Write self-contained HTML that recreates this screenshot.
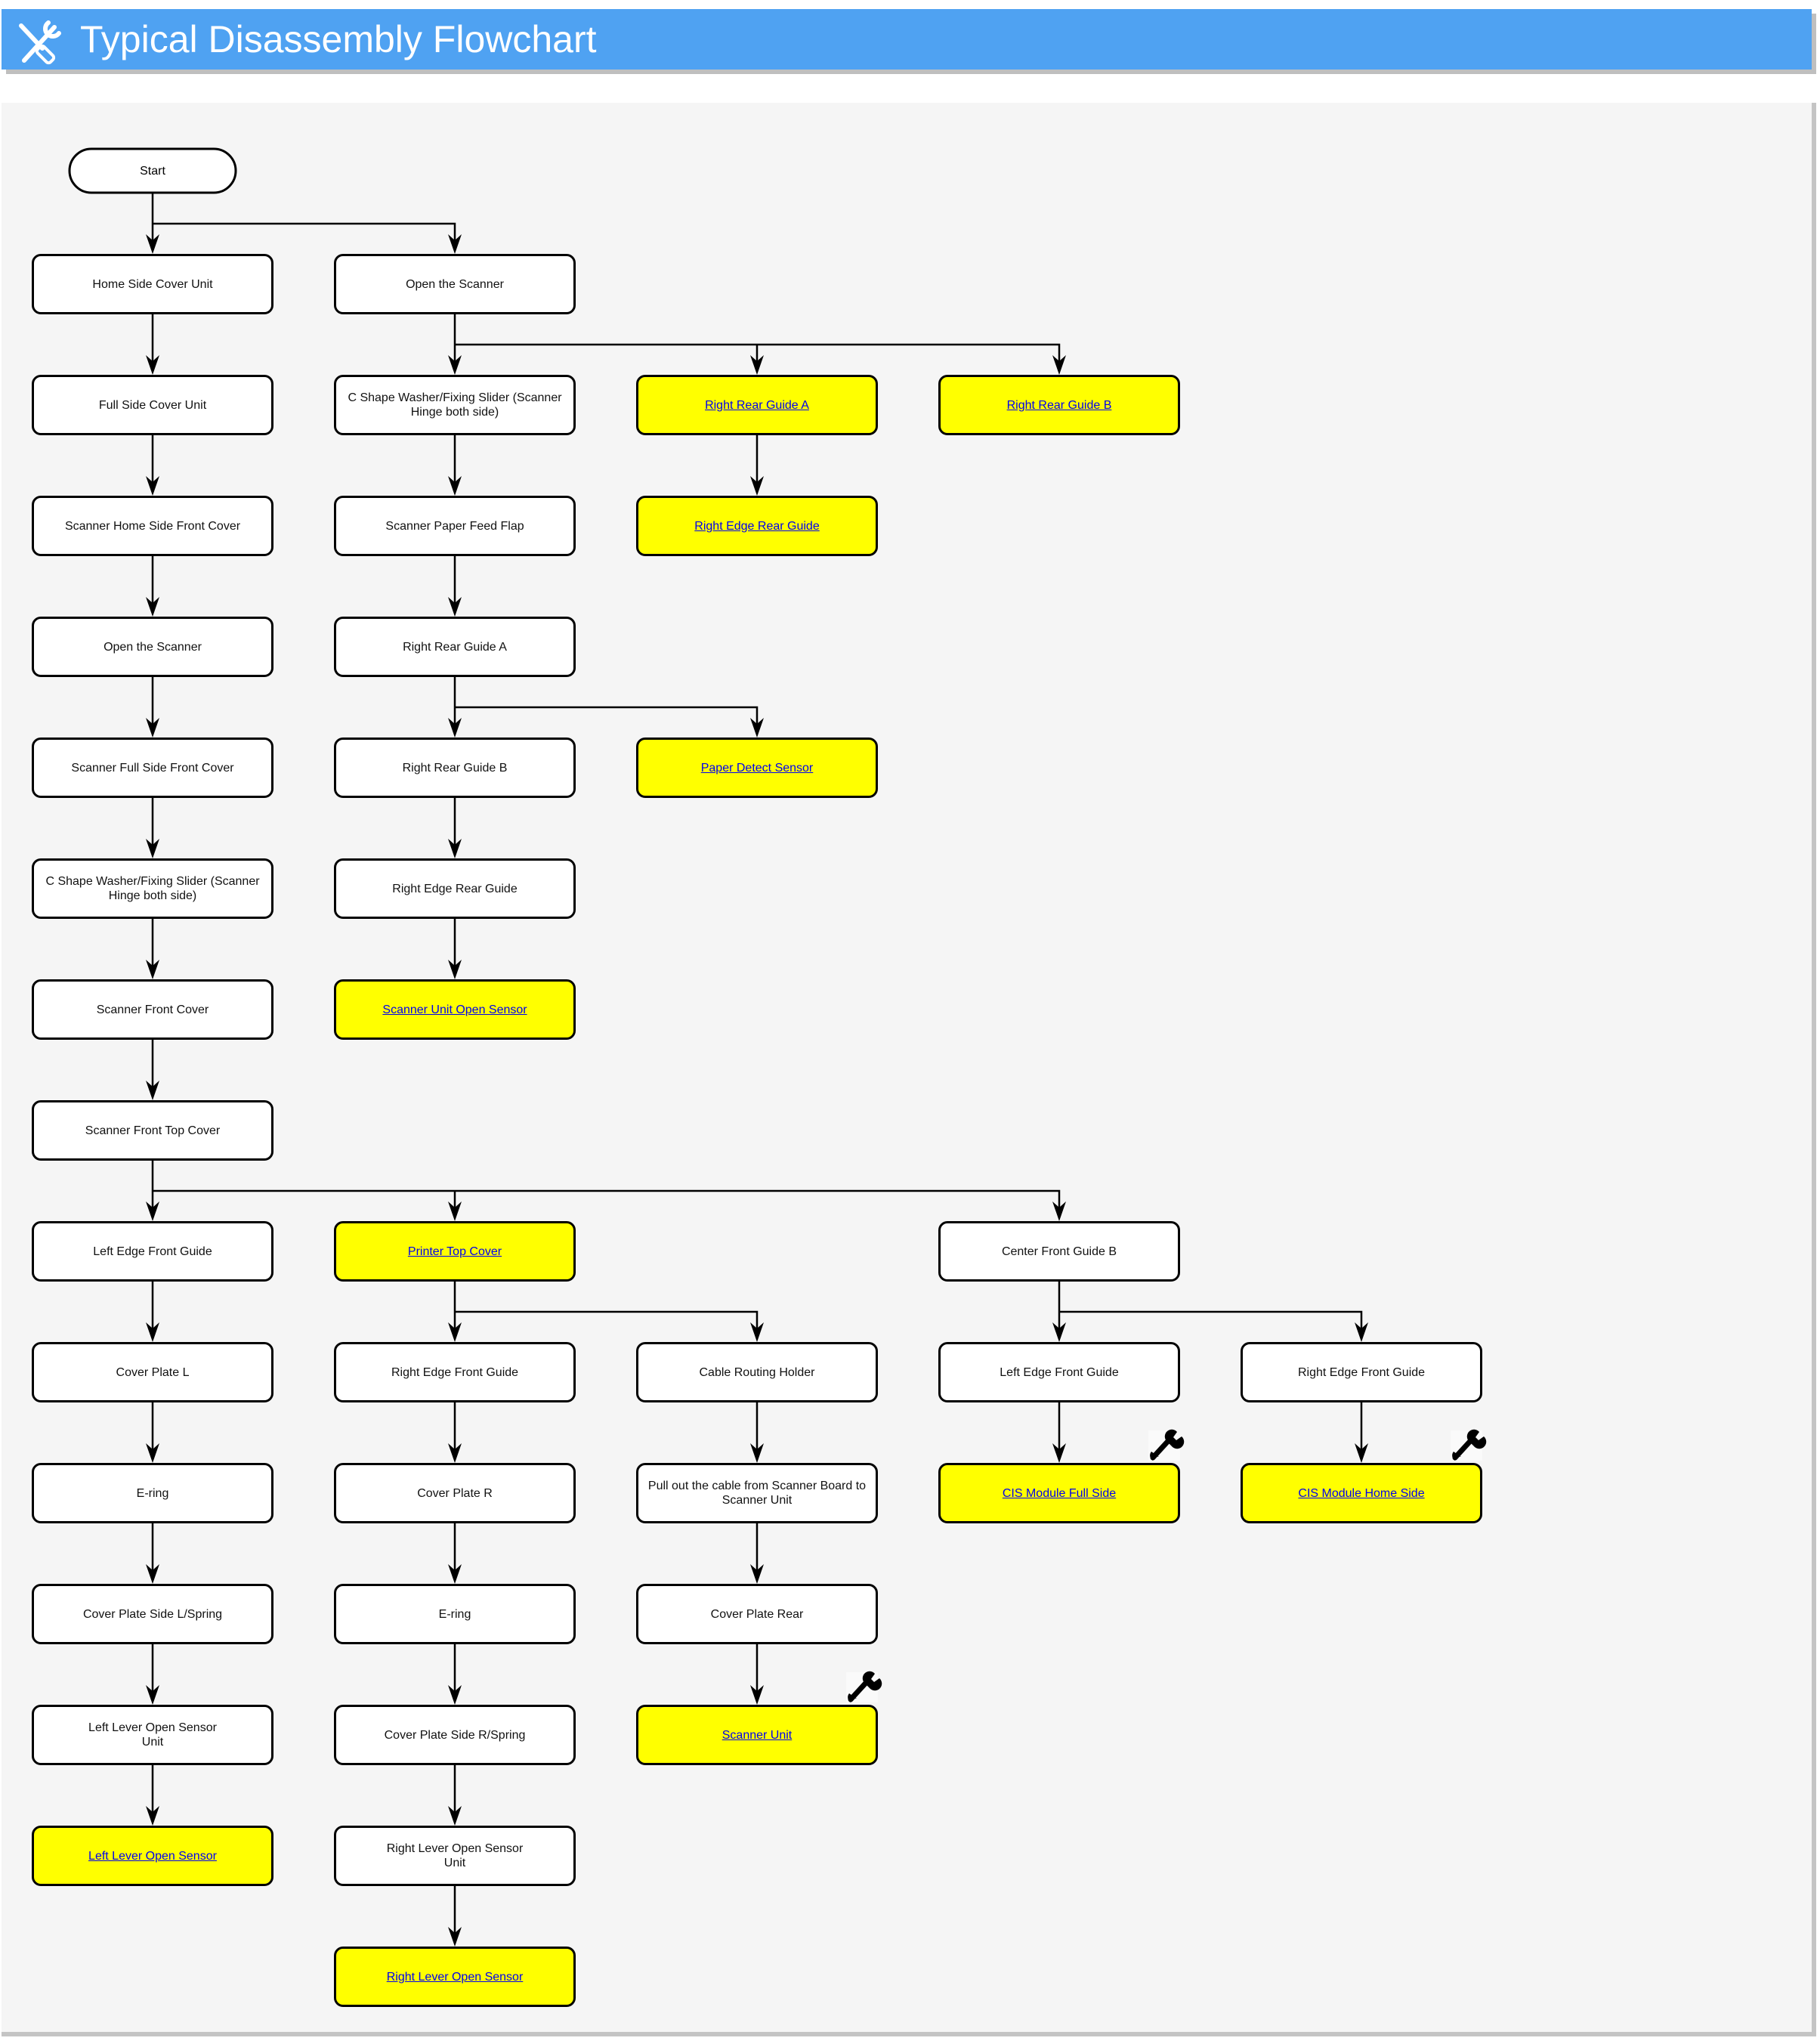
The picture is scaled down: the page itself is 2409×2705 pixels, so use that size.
<!DOCTYPE html>
<html><head><meta charset="utf-8"><style>
body{margin:0;width:2409px;height:2705px;background:#fff;position:relative;overflow:hidden;font-family:"Liberation Sans",sans-serif}
.hdr{position:absolute;left:2px;top:12px;width:2396px;height:80px;background:#4fa2f2;box-shadow:6px 6px 0 #bfbfbf}
.title{position:absolute;left:106px;top:12px;height:80px;line-height:80px;color:#fff;font-size:50px}
.panel{position:absolute;left:2px;top:136px;width:2396px;height:2553px;background:#f5f5f5;border-right:6px solid #c4c4c4;border-bottom:6px solid #c4c4c4}
.b{position:absolute;width:298px;padding:0 8px;height:74px;border:3px solid #000;border-radius:12px;background:#fff;display:flex;align-items:center;justify-content:center;text-align:center;font-size:16px;line-height:19px;color:#111}
.y{background:#ff0}
.y span{color:#00e;text-decoration:underline}
</style></head><body>
<div class="hdr"></div>
<svg style="position:absolute;left:22px;top:22px" width="66" height="64" viewBox="0 0 66 64">
<g stroke="#fff" fill="none" stroke-width="6" stroke-linecap="round">
<path d="M10 58 L50 14"/><path d="M42 8 a10 10 0 1 0 14 14"/>
<path d="M6 12 L34 42"/><rect x="32" y="38" width="12" height="24" rx="4" transform="rotate(-45 38 50)" stroke-width="4"/>
</g></svg>
<div class="title">Typical Disassembly Flowchart</div>
<div class="panel"></div>
<svg style="position:absolute;left:0;top:0" width="2409" height="2705">
<rect x="92" y="197" width="220" height="58" rx="29" fill="#fff" stroke="#000" stroke-width="3"/>
<text x="202" y="231" font-size="16" text-anchor="middle" font-family="Liberation Sans">Start</text>
<g stroke="#000" stroke-width="2.5" fill="none">
<path d="M202 256V330M202 296H602V330"/>
<path d="M202 416V490M202 576V650M202 736V810M202 896V970M202 1056V1130M202 1216V1290M202 1376V1450M202 1536V1610M202 1696V1770M202 1856V1930M202 2016V2090M202 2176V2250M202 2336V2410"/>
<path d="M602 416V490M602 456H1402V490M1002 456V490M1002 576V650"/>
<path d="M602 576V650M602 736V810M602 896V970M602 1056V1130M602 1216V1290M602 936H1002V970"/>
<path d="M202 1576H1402V1610M602 1576V1610"/>
<path d="M602 1696V1770M602 1736H1002V1770M602 1856V1930M602 2016V2090M602 2176V2250M602 2336V2410M602 2496V2570"/>
<path d="M1002 1856V1930M1002 2016V2090M1002 2176V2250"/>
<path d="M1402 1696V1770M1402 1736H1802V1770M1402 1856V1930M1802 1856V1930"/>
</g>
<g fill="#000">
<path id="a" d="M-9 -26L0 0L9 -26L0 -18Z" transform="translate(202 336)"/>
<use href="#a" x="400" y="0"/>
<use href="#a" x="0" y="160"/><use href="#a" x="0" y="320"/><use href="#a" x="0" y="480"/><use href="#a" x="0" y="640"/><use href="#a" x="0" y="800"/><use href="#a" x="0" y="960"/><use href="#a" x="0" y="1120"/><use href="#a" x="0" y="1280"/><use href="#a" x="0" y="1440"/><use href="#a" x="0" y="1600"/><use href="#a" x="0" y="1760"/><use href="#a" x="0" y="1920"/><use href="#a" x="0" y="2080"/>
<use href="#a" x="400" y="160"/><use href="#a" x="400" y="320"/><use href="#a" x="400" y="480"/><use href="#a" x="400" y="640"/><use href="#a" x="400" y="800"/><use href="#a" x="400" y="960"/>
<use href="#a" x="800" y="160"/><use href="#a" x="800" y="320"/><use href="#a" x="1200" y="160"/><use href="#a" x="800" y="640"/>
<use href="#a" x="400" y="1280"/><use href="#a" x="1200" y="1280"/>
<use href="#a" x="400" y="1440"/><use href="#a" x="400" y="1600"/><use href="#a" x="400" y="1760"/><use href="#a" x="400" y="1920"/><use href="#a" x="400" y="2080"/><use href="#a" x="400" y="2240"/>
<use href="#a" x="800" y="1440"/><use href="#a" x="800" y="1600"/><use href="#a" x="800" y="1760"/><use href="#a" x="800" y="1920"/>
<use href="#a" x="1200" y="1440"/><use href="#a" x="1200" y="1600"/><use href="#a" x="1600" y="1440"/><use href="#a" x="1600" y="1600"/>
</g>
<g>
<g id="w" transform="translate(1120 2213)"><rect width="42" height="40" fill="#fafafa"/><path d="M6 36L28 12" stroke="#000" stroke-width="7" stroke-linecap="round"/><path d="M24 14a9 9 0 0 1 14-12l-5 7 4 4 7-5a9 9 0 0 1-12 14Z" fill="#000"/><path d="M4 28a8 8 0 0 0 2 12l3-6 5 1z" fill="#000"/></g>
<use href="#w" x="400" y="-320"/><use href="#w" x="800" y="-320"/>
</g>
</svg>
<div class="b" style="left:42px;top:336px">Home Side Cover Unit</div>
<div class="b" style="left:42px;top:496px">Full Side Cover Unit</div>
<div class="b" style="left:42px;top:656px">Scanner Home Side Front Cover</div>
<div class="b" style="left:42px;top:816px">Open the Scanner</div>
<div class="b" style="left:42px;top:976px">Scanner Full Side Front Cover</div>
<div class="b" style="left:42px;top:1136px">C Shape Washer/Fixing Slider (Scanner Hinge both side)</div>
<div class="b" style="left:42px;top:1296px">Scanner Front Cover</div>
<div class="b" style="left:42px;top:1456px">Scanner Front Top Cover</div>
<div class="b" style="left:42px;top:1616px">Left Edge Front Guide</div>
<div class="b" style="left:42px;top:1776px">Cover Plate L</div>
<div class="b" style="left:42px;top:1936px">E-ring</div>
<div class="b" style="left:42px;top:2096px">Cover Plate Side L/Spring</div>
<div class="b" style="left:42px;top:2256px">Left Lever Open Sensor<br>Unit</div>
<div class="b y" style="left:42px;top:2416px"><span>Left Lever Open Sensor</span></div>
<div class="b" style="left:442px;top:336px">Open the Scanner</div>
<div class="b" style="left:442px;top:496px">C Shape Washer/Fixing Slider (Scanner Hinge both side)</div>
<div class="b" style="left:442px;top:656px">Scanner Paper Feed Flap</div>
<div class="b" style="left:442px;top:816px">Right Rear Guide A</div>
<div class="b" style="left:442px;top:976px">Right Rear Guide B</div>
<div class="b" style="left:442px;top:1136px">Right Edge Rear Guide</div>
<div class="b y" style="left:442px;top:1296px"><span>Scanner Unit Open Sensor</span></div>
<div class="b y" style="left:442px;top:1616px"><span>Printer Top Cover</span></div>
<div class="b" style="left:442px;top:1776px">Right Edge Front Guide</div>
<div class="b" style="left:442px;top:1936px">Cover Plate R</div>
<div class="b" style="left:442px;top:2096px">E-ring</div>
<div class="b" style="left:442px;top:2256px">Cover Plate Side R/Spring</div>
<div class="b" style="left:442px;top:2416px">Right Lever Open Sensor<br>Unit</div>
<div class="b y" style="left:442px;top:2576px"><span>Right Lever Open Sensor</span></div>
<div class="b y" style="left:842px;top:496px"><span>Right Rear Guide A</span></div>
<div class="b y" style="left:842px;top:656px"><span>Right Edge Rear Guide</span></div>
<div class="b y" style="left:842px;top:976px"><span>Paper Detect Sensor</span></div>
<div class="b" style="left:842px;top:1776px">Cable Routing Holder</div>
<div class="b" style="left:842px;top:1936px">Pull out the cable from Scanner Board to Scanner Unit</div>
<div class="b" style="left:842px;top:2096px">Cover Plate Rear</div>
<div class="b y" style="left:842px;top:2256px"><span>Scanner Unit</span></div>
<div class="b y" style="left:1242px;top:496px"><span>Right Rear Guide B</span></div>
<div class="b" style="left:1242px;top:1616px">Center Front Guide B</div>
<div class="b" style="left:1242px;top:1776px">Left Edge Front Guide</div>
<div class="b y" style="left:1242px;top:1936px"><span>CIS Module Full Side</span></div>
<div class="b" style="left:1642px;top:1776px">Right Edge Front Guide</div>
<div class="b y" style="left:1642px;top:1936px"><span>CIS Module Home Side</span></div>
</body></html>
